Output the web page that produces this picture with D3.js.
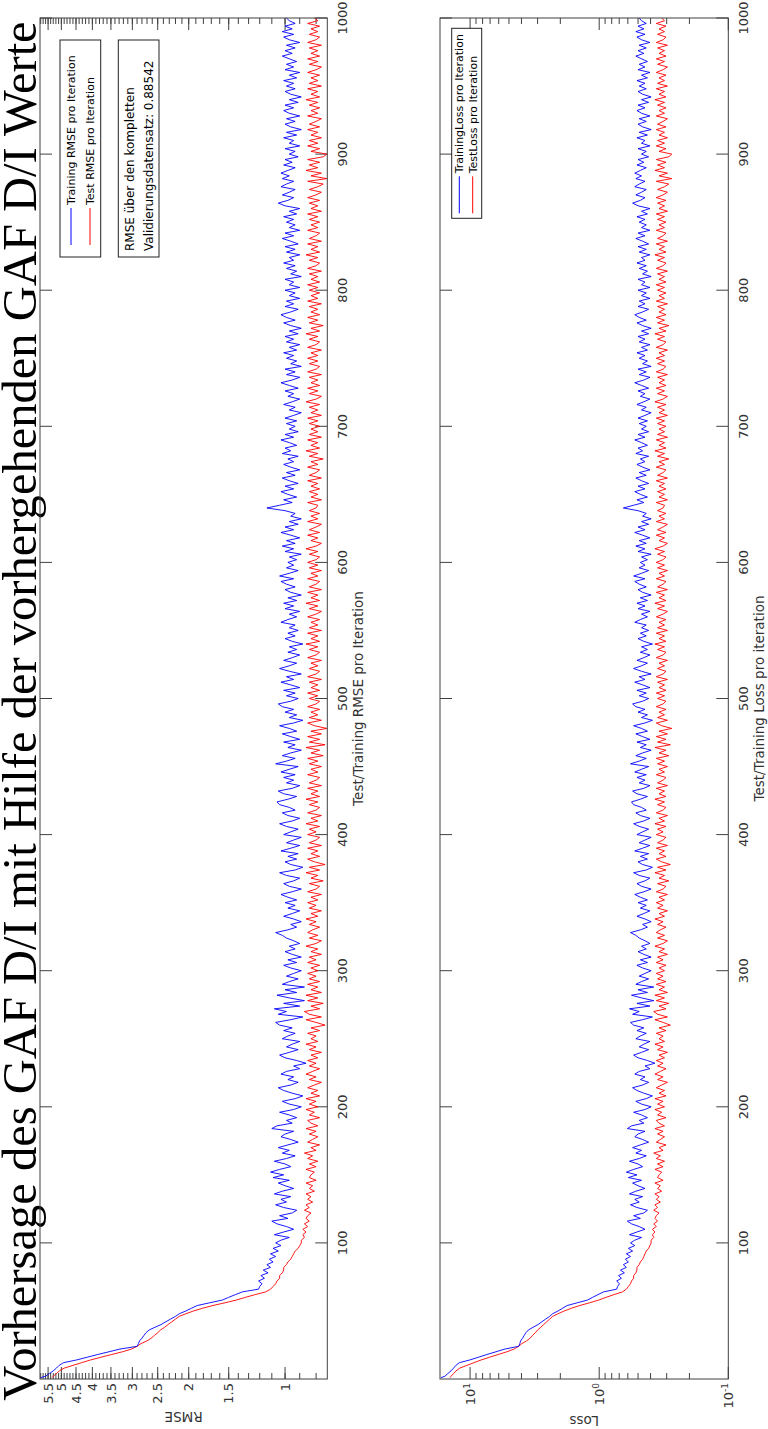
<!DOCTYPE html>
<html>
<head>
<meta charset="utf-8">
<script src="https://cdn.jsdelivr.net/npm/d3@7"></script>
<style>
  body { margin: 0; background: #fff; }
</style>
</head>
<body>
<div id="chart"></div>
<script>
// iterations sampled every 2 steps (first sample is iteration 1)
var iterations = [1].concat(d3.range(2, 1001, 2));

// RMSE values in hundredths
var trainRmse = [
  580,
  560,545,530,518,508,492,448,415,385,355,
  328,290,287,285,280,276,272,266,255,244,
  236,228,220,214,204,196,188,172,157,150,
  143,136,121,120,118,121,116,119,113,117,
  111,114,109,112,107,111,105,109,103,107,
  103,97,108,101,94,99,106,110,98,104,95,92,101,107,99,103,96,108,102,94,100,105,97,109,101,
  111,104,96,100,108,99,93,102,97,105,98,91,96,103,100,94,110,106,95,99,92,97,104,94,89,
  97,102,93,88,95,101,105,96,91,98,94,103,99,90,94,86,92,100,104,97,91,99,95,90,102,
  98,93,101,95,104,107,96,88,105,99,108,90,101,87,97,106,92,100,87,102,97,91,99,94,89,
  96,101,92,98,89,95,100,93,97,90,94,99,102,107,98,92,96,89,94,101,95,90,98,93,100,
  92,98,103,95,89,97,101,94,90,99,104,93,88,96,100,92,98,91,103,96,90,99,94,89,101,
  96,91,99,104,95,90,98,102,93,97,104,106,98,92,101,105,95,90,99,94,101,93,103,97,91,
  107,99,93,102,96,89,98,93,101,90,96,102,92,97,104,94,88,97,92,100,94,102,105,96,91,
  99,93,101,90,96,103,94,99,89,97,104,97,92,101,95,90,98,92,97,88,95,100,93,98,91,
  97,93,103,98,92,97,90,100,94,101,92,98,89,96,100,93,99,103,94,104,97,91,99,94,98,
  92,97,89,100,94,102,93,99,90,96,103,94,100,91,97,89,96,93,100,114,104,95,101,92,98,
  103,94,100,91,97,102,93,99,90,96,101,94,98,91,102,96,100,92,97,103,94,100,91,97,93,
  99,92,100,94,89,97,93,101,95,90,98,94,100,91,97,103,95,90,99,93,100,89,96,92,99,
  94,101,92,97,90,99,94,100,91,97,89,96,101,93,99,103,96,91,100,94,99,90,97,93,100,
  90,97,94,100,89,96,92,99,93,101,94,97,90,99,93,100,91,96,102,94,100,90,97,93,99,
  94,101,92,97,90,100,105,98,94,102,97,93,103,99,94,102,97,103,98,93,101,95,100,91,97,
  93,100,90,97,94,101,92,99,89,96,100,93,99,90,97,101,94,100,91,97,89,96,100,93,99,
  94,101,92,97,90,100,94,99,92,97,102,95,100,93,99,90,97,101,94,102,95,100,93,97,99
];

var testRmse = [
  535,
  530,518,507,490,460,432,405,376,348,322,
  302,290,282,270,262,256,250,245,238,232,
  226,220,214,204,193,181,168,154,142,133,
  124,115,111,109,107,106,104,104,102,101,
  101,99,98,96,95,94,93,91,90,89,
  89,87,88,86,88,85,87,84,86,85,83,87,84,86,82,85,83,86,81,84,82,86,80,84,83,
  81,86,80,84,79,85,82,87,80,83,78,85,82,79,84,80,86,79,83,85,78,84,81,86,79,
  84,80,86,78,83,79,85,81,77,84,80,86,82,78,84,80,85,79,83,77,84,80,86,79,83,
  80,85,78,83,75,80,86,77,84,87,78,83,76,85,79,86,77,83,79,85,78,84,80,85,79,
  83,78,85,80,84,77,83,79,86,80,77,84,79,85,82,78,84,80,86,79,83,77,84,80,85,
  79,83,77,85,80,78,84,76,83,79,86,78,84,75,81,85,78,83,79,85,77,84,80,78,85,
  80,84,78,86,79,83,77,85,80,78,84,79,86,78,83,79,85,77,84,80,78,85,79,83,77,
  84,79,85,76,83,78,86,75,84,78,85,77,83,74,81,85,77,84,79,83,78,85,80,78,84,
  79,85,78,83,79,84,77,85,80,78,84,79,83,77,85,80,78,84,79,86,78,83,79,85,77,
  84,79,83,78,85,80,77,84,79,86,78,83,79,85,77,84,80,78,85,79,83,77,84,79,85,
  80,78,84,79,86,80,77,83,79,85,78,84,80,77,85,79,83,78,84,80,79,85,77,83,79,
  84,78,83,79,85,77,84,80,78,85,79,83,76,84,79,86,78,83,79,85,77,84,79,83,78,
  84,79,85,77,83,79,84,78,86,80,77,84,79,85,78,83,79,84,77,85,80,78,84,79,85,
  79,83,77,85,80,78,84,79,86,78,83,76,84,79,85,78,83,79,84,77,85,79,83,78,84,
  79,85,78,83,79,84,77,85,80,78,84,79,86,78,83,79,85,77,84,80,78,85,79,83,78,
  84,79,85,77,83,79,84,78,85,80,77,84,79,76,85,74,83,77,86,79,84,78,85,76,74,
  83,78,85,79,84,77,83,79,85,78,84,80,77,85,79,83,78,84,79,86,78,83,79,85,77,
  84,79,83,78,85,80,77,84,79,85,78,83,79,84,77,85,80,78,84,79,83,78,85,79,81
];

// loss values in thousandths
var trainLoss = [
  16820,
  15680,14851,14045,13416,12903,12103,10035,8611,7411,6301,
  5379,4205,4118,4061,3920,3809,3699,3538,3251,2977,
  2785,2599,2420,2290,2081,1921,1767,1479,1232,1125,
  1022,925,732,720,696,732,673,708,638,684,
  616,650,594,627,572,616,551,594,530,572,
  530,470,583,510,442,490,562,605,480,541,451,423,510,572,490,530,461,583,520,442,500,551,470,594,510,
  616,541,461,500,583,490,432,520,470,551,480,414,461,530,500,442,605,562,451,490,423,470,541,442,396,
  470,520,432,387,451,510,551,461,414,480,442,530,490,405,442,370,423,500,541,470,414,490,451,405,520,
  480,432,510,451,541,572,461,387,551,490,583,405,510,378,470,562,423,500,378,520,470,414,490,442,396,
  461,510,423,480,396,451,500,432,470,405,442,490,520,572,480,423,461,396,442,510,451,405,480,432,500,
  423,480,530,451,396,470,510,442,405,490,541,432,387,461,500,423,480,414,530,461,405,490,442,396,510,
  461,414,490,541,451,405,480,520,432,470,541,562,480,423,510,551,451,405,490,442,510,432,530,470,414,
  572,490,432,520,461,396,480,432,510,405,461,520,423,470,541,442,387,470,423,500,442,520,551,461,414,
  490,432,510,405,461,530,442,490,396,470,541,470,423,510,451,405,480,423,470,387,451,500,432,480,414,
  470,432,530,480,423,470,405,500,442,510,423,480,396,461,500,432,490,530,442,541,470,414,490,442,480,
  423,470,396,500,442,520,432,490,405,461,530,442,500,414,470,396,461,432,500,650,541,451,510,423,480,
  530,442,500,414,470,520,432,490,405,461,510,442,480,414,520,461,500,423,470,530,442,500,414,470,432,
  490,423,500,442,396,470,432,510,451,405,480,442,500,414,470,530,451,405,490,432,500,396,461,423,490,
  442,510,423,470,405,490,442,500,414,470,396,461,510,432,490,530,461,414,500,442,490,405,470,432,500,
  405,470,442,500,396,461,423,490,432,510,442,470,405,490,432,500,414,461,520,442,500,405,470,432,490,
  442,510,423,470,405,500,551,480,442,520,470,432,530,490,442,520,470,530,480,432,510,451,500,414,470,
  432,500,405,470,442,510,423,490,396,461,500,432,490,405,470,510,442,500,414,470,396,461,500,432,490,
  442,510,423,470,405,500,442,490,423,470,520,451,500,432,490,405,470,510,442,520,451,500,432,470,490
];

var testLoss = [
  14311,
  14045,13416,12852,12005,10580,9331,8201,7069,6055,5184,
  4560,4205,3976,3645,3432,3277,3125,3001,2832,2691,
  2554,2420,2290,2081,1862,1638,1411,1186,1008,884,
  769,661,616,594,572,562,541,541,520,510,
  510,490,480,461,451,442,432,414,405,396,
  396,378,387,370,387,361,378,353,370,361,344,378,353,370,336,361,344,370,328,353,336,370,320,353,344,
  328,370,320,353,312,361,336,378,320,344,304,361,336,312,353,320,370,312,344,361,304,353,328,370,312,
  353,320,370,304,344,312,361,328,296,353,320,370,336,304,353,320,361,312,344,296,353,320,370,312,344,
  320,361,304,344,281,320,370,296,353,378,304,344,289,361,312,370,296,344,312,361,304,353,320,361,312,
  344,304,361,320,353,296,344,312,370,320,296,353,312,361,336,304,353,320,370,312,344,296,353,320,361,
  312,344,296,361,320,304,353,289,344,312,370,304,353,281,328,361,304,344,312,361,296,353,320,304,361,
  320,353,304,370,312,344,296,361,320,304,353,312,370,304,344,312,361,296,353,320,304,361,312,344,296,
  353,312,361,289,344,304,370,281,353,304,361,296,344,274,328,361,296,353,312,344,304,361,320,304,353,
  312,361,304,344,312,353,296,361,320,304,353,312,344,296,361,320,304,353,312,370,304,344,312,361,296,
  353,312,344,304,361,320,296,353,312,370,304,344,312,361,296,353,320,304,361,312,344,296,353,312,361,
  320,304,353,312,370,320,296,344,312,361,304,353,320,296,361,312,344,304,353,320,312,361,296,344,312,
  353,304,344,312,361,296,353,320,304,361,312,344,289,353,312,370,304,344,312,361,296,353,312,344,304,
  353,312,361,296,344,312,353,304,370,320,296,353,312,361,304,344,312,353,296,361,320,304,353,312,361,
  312,344,296,361,320,304,353,312,370,304,344,289,353,312,361,304,344,312,353,296,361,312,344,304,353,
  312,361,304,344,312,353,296,361,320,304,353,312,370,304,344,312,361,296,353,320,304,361,312,344,304,
  353,312,361,296,344,312,353,304,361,320,296,353,312,289,361,274,344,296,370,312,353,304,361,289,274,
  344,304,361,312,353,296,344,312,361,304,353,320,296,361,312,344,304,353,312,370,304,344,312,361,296,
  353,312,344,304,361,320,296,353,312,361,304,344,312,353,296,361,320,304,353,312,344,304,361,312,328
];

var iterTicks = [100, 200, 300, 400, 500, 600, 700, 800, 900, 1000];
var rmseTicks = [1, 1.5, 2, 2.5, 3, 3.5, 4, 4.5, 5, 5.5];
var rmseMinor = d3.range(8, 59).map(function(v) { return v / 10; });
var lossTicks = [0.1, 1, 10];
var lossLabels = ["-1", "0", "1"];
var lossMinor = [0.2, 0.3, 0.4, 0.5, 0.6, 0.7, 0.8, 0.9, 2, 3, 4, 5, 6, 7, 8, 9];

var title = "Vorhersage des GAF D/I mit Hilfe der vorhergehenden GAF D/I Werte";

// the figure is drawn landscape and then turned by -90 degrees
var W = 1429, H = 768;
var axisColor = "#404040";
var font = "DejaVu Sans";

var svg = d3.select("#chart").append("svg")
  .attr("width", H)
  .attr("height", W);

svg.append("rect").attr("width", H).attr("height", W).attr("fill", "#fff");

var fig = svg.append("g")
  .attr("transform", "translate(0," + W + ") rotate(-90)");

var x = d3.scaleLinear().domain([0, 1000]).range([50, 1411]);

// title, sized so that it spans the same length as in the original
var titleText = fig.append("text")
  .attr("x", 718)
  .attr("y", 36)
  .attr("text-anchor", "middle")
  .style("font-family", "Liberation Serif")
  .style("font-size", "48px")
  .text(title);
var tl = titleText.node().getComputedTextLength();
titleText.style("font-size", (48 * 1380 / tl) + "px");

function drawPanel(p) {
  var y = d3.scaleLog().domain(p.domain).range([p.bottom, p.top]);
  var g = fig.append("g");
  var x0 = x.range()[0], x1 = x.range()[1];

  // value ticks on both sides
  function vtick(v, len) {
    g.append("line").attr("x1", x0).attr("x2", x0 + len)
      .attr("y1", y(v)).attr("y2", y(v)).attr("stroke", axisColor);
    g.append("line").attr("x1", x1).attr("x2", x1 - len)
      .attr("y1", y(v)).attr("y2", y(v)).attr("stroke", axisColor);
  }
  p.minor.forEach(function(v) { if (v >= p.domain[0] && v <= p.domain[1]) vtick(v, 6); });
  p.major.forEach(function(v) { vtick(v, 12); });

  // iteration ticks on both sides
  iterTicks.forEach(function(t) {
    g.append("line").attr("x1", x(t)).attr("x2", x(t))
      .attr("y1", p.bottom).attr("y2", p.bottom - 12).attr("stroke", axisColor);
    g.append("line").attr("x1", x(t)).attr("x2", x(t))
      .attr("y1", p.top).attr("y2", p.top + 12).attr("stroke", axisColor);
    g.append("text")
      .attr("x", x(t)).attr("y", p.bottom + 20)
      .attr("text-anchor", "middle")
      .attr("fill", "#333")
      .style("font-family", font).style("font-size", "13px")
      .text(t);
  });

  // value tick labels
  p.major.forEach(function(v, i) {
    var t = g.append("text")
      .attr("x", x0 - 4).attr("y", y(v)).attr("dy", "0.36em")
      .attr("text-anchor", "end")
      .attr("fill", "#333")
      .style("font-family", font).style("font-size", "13px");
    if (p.supLabels) {
      t.append("tspan").text("10");
      t.append("tspan").attr("dy", "-0.55em").style("font-size", "9px").text(p.supLabels[i]);
    } else {
      t.text(v);
    }
  });

  // series
  var line = d3.line()
    .x(function(d, i) { return x(iterations[i]); })
    .y(function(d) { return y(d / p.unit); });

  g.append("path").datum(p.test)
    .attr("d", line).attr("fill", "none")
    .attr("stroke", "#ff0000").attr("stroke-width", 0.9);
  g.append("path").datum(p.train)
    .attr("d", line).attr("fill", "none")
    .attr("stroke", "#0000ff").attr("stroke-width", 0.9);

  // box
  g.append("rect")
    .attr("x", x0).attr("y", p.top)
    .attr("width", x1 - x0).attr("height", p.bottom - p.top)
    .attr("fill", "none").attr("stroke", axisColor);

  // axis titles
  g.append("text")
    .attr("x", (x0 + x1) / 2).attr("y", p.bottom + 36)
    .attr("text-anchor", "middle")
    .attr("fill", "#333")
    .style("font-family", font).style("font-size", "13.5px")
    .text(p.xTitle);
  g.append("text")
    .attr("transform", "translate(" + p.yTitleX + "," + ((p.top + p.bottom) / 2) + ") rotate(-90)")
    .attr("text-anchor", "middle")
    .attr("fill", "#333")
    .style("font-family", font).style("font-size", "13.5px")
    .text(p.yTitle);

  // legend
  var lg = p.legend;
  g.append("rect")
    .attr("x", lg.x).attr("y", lg.y)
    .attr("width", lg.w).attr("height", lg.h)
    .attr("fill", "#fff").attr("stroke", "#222");
  lg.rows.forEach(function(r) {
    g.append("line")
      .attr("x1", lg.lineX).attr("x2", lg.lineX + 37)
      .attr("y1", r.y).attr("y2", r.y)
      .attr("stroke", r.color);
    g.append("text")
      .attr("x", lg.lineX + 40).attr("y", r.y).attr("dy", "0.36em")
      .style("font-family", font).style("font-size", "11px")
      .text(r.label);
  });
}

drawPanel({
  top: 40, bottom: 327.3,
  domain: [0.738, 5.83], unit: 100,
  major: rmseTicks, minor: rmseMinor,
  train: trainRmse, test: testRmse,
  xTitle: "Test/Training RMSE pro Iteration",
  yTitle: "RMSE", yTitleX: 17,
  legend: {
    x: 1172, y: 60, w: 217, h: 40.7, lineX: 1184,
    rows: [
      { y: 71, color: "#0000ff", label: "Training RMSE pro Iteration" },
      { y: 90, color: "#ff0000", label: "Test RMSE pro Iteration" }
    ]
  }
});

drawPanel({
  top: 440, bottom: 728.3,
  domain: [0.1, 17.1], unit: 1000,
  major: lossTicks, minor: lossMinor, supLabels: lossLabels,
  train: trainLoss, test: testLoss,
  xTitle: "Test/Training Loss pro iteration",
  yTitle: "Loss", yTitleX: 13,
  legend: {
    x: 1210.7, y: 451.7, w: 190, h: 30, lineX: 1215.7,
    rows: [
      { y: 459.3, color: "#0000ff", label: "TrainingLoss pro Iteration" },
      { y: 472.7, color: "#ff0000", label: "TestLoss pro Iteration" }
    ]
  }
});

// second box with the validation RMSE
fig.append("rect")
  .attr("x", 1172).attr("y", 118.3)
  .attr("width", 217).attr("height", 40.7)
  .attr("fill", "#fff").attr("stroke", "#222");
["RMSE über den kompletten", "Validierungsdatensatz: 0.88542"].forEach(function(s, i) {
  fig.append("text")
    .attr("x", 1178).attr("y", 129.3 + i * 19).attr("dy", "0.36em")
    .style("font-family", font).style("font-size", "12px")
    .text(s);
});
</script>
</body>
</html>
